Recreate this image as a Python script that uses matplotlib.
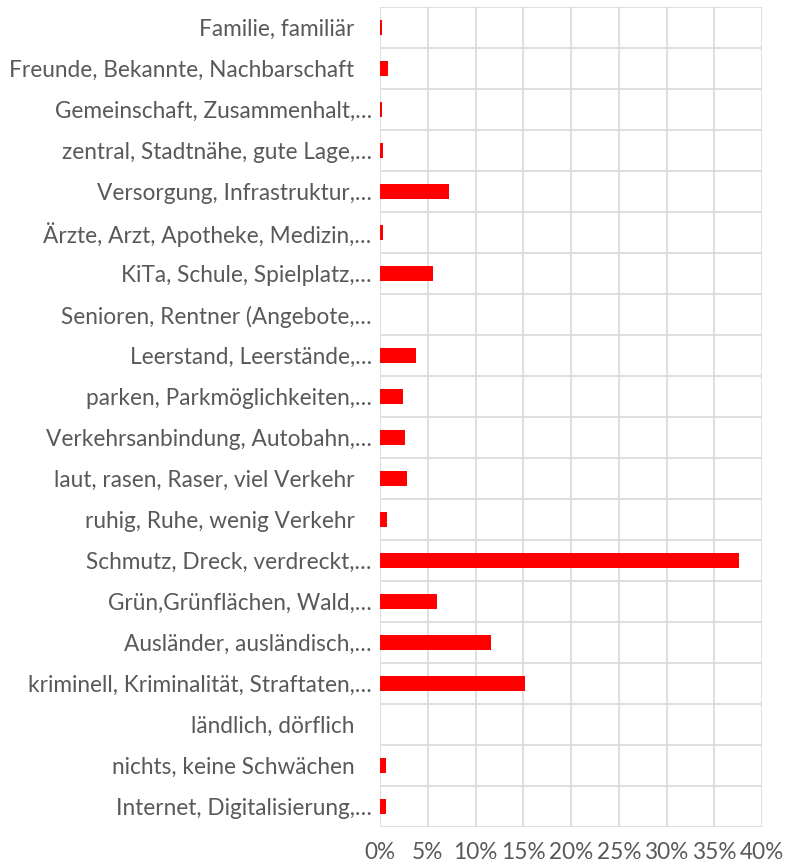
import matplotlib.pyplot as plt
from matplotlib.ticker import FuncFormatter, MultipleLocator

categories = [
    "Familie, familiär",
    "Freunde, Bekannte, Nachbarschaft",
    "Gemeinschaft, Zusammenhalt,…",
    "zentral, Stadtnähe, gute Lage,…",
    "Versorgung, Infrastruktur,…",
    "Ärzte, Arzt, Apotheke, Medizin,…",
    "KiTa, Schule, Spielplatz,…",
    "Senioren, Rentner (Angebote,…",
    "Leerstand, Leerstände,…",
    "parken, Parkmöglichkeiten,…",
    "Verkehrsanbindung, Autobahn,…",
    "laut, rasen, Raser, viel Verkehr",
    "ruhig, Ruhe, wenig Verkehr",
    "Schmutz, Dreck, verdreckt,…",
    "Grün,Grünflächen, Wald,…",
    "Ausländer, ausländisch,…",
    "kriminell, Kriminalität, Straftaten,…",
    "ländlich, dörflich",
    "nichts, keine Schwächen",
    "Internet, Digitalisierung,…",
]
values = [0.24, 0.8, 0.24, 0.31, 7.27, 0.31, 5.59, 0.0, 3.74, 2.41,
          2.62, 2.80, 0.73, 37.6, 5.94, 11.67, 15.23, 0.0, 0.66, 0.59]

plt.rcParams['font.family'] = ['Lato', 'DejaVu Sans']
fig = plt.figure(figsize=(7.96, 8.67), dpi=100)
ax = fig.add_axes([380 / 796, 1 - 827 / 867, 382 / 796, 820 / 867])

y = list(range(len(categories)))
ax.barh(y, values, height=0.35, color='#ff0000', zorder=3)

ax.set_xlim(0, 40)
ax.set_ylim(len(categories) - 0.5, -0.5)
ax.xaxis.set_major_locator(MultipleLocator(5))
ax.xaxis.set_major_formatter(FuncFormatter(lambda v, p: f"{v:.0f}%"))
ax.set_yticks(y)
# labels that were not truncated keep a small gap at the end
ax.set_yticklabels([c if c.endswith('…') else c + '   ' for c in categories])

# horizontal lines between categories
for b in range(len(categories) + 1):
    ax.axhline(b - 0.5, color='#d9d9d9', lw=1.2, zorder=1)
ax.grid(axis='x', color='#d9d9d9', lw=1.2, zorder=1)

for s in ax.spines.values():
    s.set_visible(False)
ax.tick_params(length=0, labelsize=16.3, labelcolor='#595959')
ax.tick_params(axis='x', pad=11)
ax.tick_params(axis='y', pad=6)

fig.savefig('out.png', dpi=100)
